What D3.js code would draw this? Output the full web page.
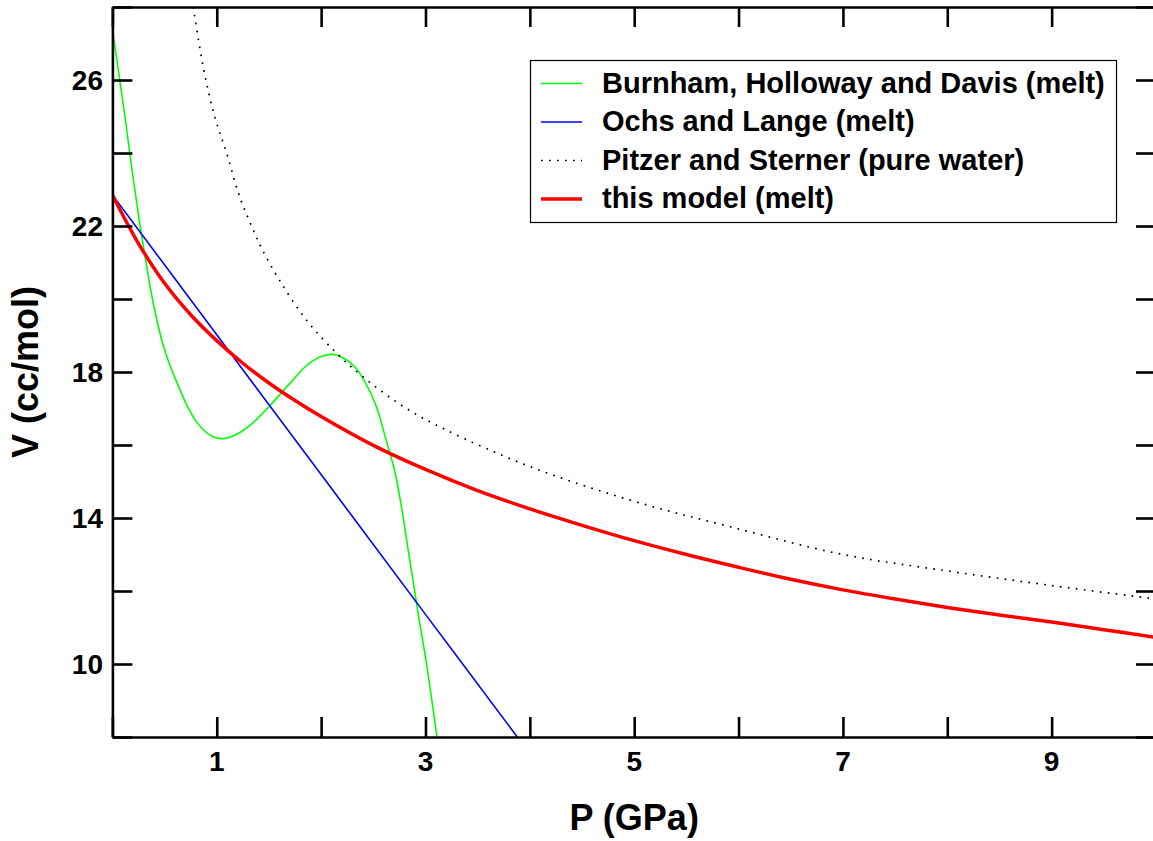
<!DOCTYPE html>
<html lang="en">
<head>
<meta charset="utf-8">
<script src="https://cdn.jsdelivr.net/npm/d3@7/dist/d3.min.js"></script>
<style>
  body { margin: 0; background: #fff; }
  svg text { font-family: "Liberation Sans", Arial, Helvetica, sans-serif; font-weight: bold; fill: #000; }
</style>
</head>
<body>
<script>
  // values: [P (GPa), V (cc/mol)]
  const burnham = [
    [0.00, 27.40], [0.06, 26.20], [0.12, 25.00], [0.19, 23.50], [0.26, 22.10],
    [0.32, 21.05], [0.37, 20.20], [0.42, 19.50], [0.48, 18.80], [0.555, 18.15],
    [0.635, 17.60], [0.715, 17.08], [0.81, 16.62], [0.92, 16.30], [1.02, 16.18],
    [1.11, 16.20], [1.21, 16.32], [1.34, 16.59], [1.50, 17.05], [1.61, 17.40],
    [1.72, 17.75], [1.85, 18.15], [1.95, 18.36], [2.04, 18.46], [2.12, 18.48],
    [2.21, 18.39], [2.32, 18.15], [2.42, 17.73], [2.53, 17.05], [2.61, 16.27],
    [2.66, 15.77], [2.71, 15.22], [2.77, 14.31], [2.83, 13.20], [2.88, 12.30],
    [2.94, 11.20], [3.01, 10.00], [3.11, 8.00]
  ]
  const ochsLange = [[0.00, 22.85], [1.00, 19.02], [2.00, 15.19], [3.00, 11.36], [3.88, 8.00]]
  const pitzerSterner = [
    [0.775, 28.0], [0.87, 26.36], [0.98, 25.00], [1.10, 23.95], [1.22, 22.80],
    [1.35, 21.89], [1.43, 21.39], [1.60, 20.52], [1.86, 19.42], [2.15, 18.51],
    [2.40, 17.87], [2.79, 17.05], [3.20, 16.41], [4.00, 15.41], [4.96, 14.49],
    [5.92, 13.76], [7.00, 13.00], [8.00, 12.55], [9.00, 12.15], [10.00, 11.78]
  ]
  const thisModel = [
    [0.00, 22.85], [0.25, 21.52], [0.50, 20.43], [0.75, 19.57], [1.00, 18.86],
    [1.25, 18.24], [1.50, 17.70], [1.75, 17.22], [2.00, 16.78], [2.50, 15.99],
    [3.00, 15.33], [3.50, 14.75], [4.00, 14.25], [4.50, 13.80], [5.00, 13.38],
    [5.50, 13.00], [6.00, 12.65], [6.50, 12.32], [7.00, 12.03], [7.50, 11.78],
    [8.00, 11.55], [8.50, 11.34], [9.00, 11.15], [9.50, 10.94], [10.00, 10.73]
  ]

  const xTicks = d3.range(0, 11, 1)
  const xLabels = [1, 3, 5, 7, 9]
  const yTicks = d3.range(8, 29, 2)
  const yLabels = [10, 14, 18, 22, 26]

  const series = [
    {name: 'Burnham, Holloway and Davis (melt)', data: burnham, color: '#00ff00', width: 1.6, dash: null},
    {name: 'Ochs and Lange (melt)', data: ochsLange, color: '#0000ff', width: 1.6, dash: null},
    {name: 'Pitzer and Sterner (pure water)', data: pitzerSterner, color: '#000', width: 1.7, dash: '1.7,6.3'},
    {name: 'this model (melt)', data: thisModel, color: '#ff0000', width: 3.5, dash: null}
  ]

  const w = 1153
  const h = 841
  const pLeft = 112.4, pRight = 1156, pTop = 7, pBottom = 737

  const svg = d3.select('body').append('svg')
    .attr('width', w)
    .attr('height', h)

  const x = d3.scaleLinear().domain([0, 10]).range([pLeft, pRight])
  const y = d3.scaleLinear().domain([8, 28]).range([pBottom, pTop])

  svg.append('clipPath').attr('id', 'plot')
    .append('rect')
    .attr('x', pLeft).attr('y', pTop)
    .attr('width', pRight - pLeft).attr('height', pBottom - pTop)

  const line = d3.line()
    .x(d => x(d[0]))
    .y(d => y(d[1]))
    .curve(d3.curveCatmullRom.alpha(0.5))

  svg.append('g').attr('clip-path', 'url(#plot)')
    .selectAll('path')
    .data(series)
    .enter()
    .append('path')
    .attr('d', d => line(d.data))
    .style('fill', 'none')
    .style('stroke', d => d.color)
    .style('stroke-width', d => d.width)
    .style('stroke-dasharray', d => d.dash)

  // axes: ticks on all four sides, pointing inward
  const tickLen = 20
  const axisStyle = g => g.selectAll('path, line').style('stroke', '#000').style('stroke-width', 2.6)

  svg.append('g')
    .attr('transform', `translate(0,${pBottom})`)
    .call(d3.axisTop(x).tickValues(xTicks).tickSize(tickLen).tickSizeOuter(0).tickFormat(''))
    .call(axisStyle)
  svg.append('g')
    .attr('transform', `translate(0,${pTop})`)
    .call(d3.axisBottom(x).tickValues(xTicks).tickSize(tickLen).tickSizeOuter(0).tickFormat(''))
    .call(axisStyle)
  svg.append('g')
    .attr('transform', `translate(${pLeft},0)`)
    .call(d3.axisRight(y).tickValues(yTicks).tickSize(tickLen).tickSizeOuter(0).tickFormat(''))
    .call(axisStyle)
  svg.append('g')
    .attr('transform', `translate(${pRight},0)`)
    .call(d3.axisLeft(y).tickValues(yTicks).tickSize(tickLen).tickSizeOuter(0).tickFormat(''))
    .call(axisStyle)

  svg.selectAll('.xlab')
    .data(xLabels)
    .enter()
    .append('text')
    .attr('x', d => x(d))
    .attr('y', 771)
    .attr('text-anchor', 'middle')
    .style('font-size', '28px')
    .text(d => d)

  svg.selectAll('.ylab')
    .data(yLabels)
    .enter()
    .append('text')
    .attr('x', 103)
    .attr('y', d => y(d) + 10)
    .attr('text-anchor', 'end')
    .style('font-size', '28px')
    .text(d => d)

  svg.append('text')
    .attr('x', (pLeft + pRight) / 2)
    .attr('y', 830)
    .attr('text-anchor', 'middle')
    .style('font-size', '36px')
    .text('P (GPa)')

  svg.append('text')
    .attr('transform', `translate(38,${(pTop + pBottom) / 2}) rotate(-90)`)
    .attr('text-anchor', 'middle')
    .style('font-size', '36px')
    .text('V (cc/mol)')

  // legend
  const legend = svg.append('g')
  legend.append('rect')
    .attr('x', 530.5).attr('y', 60.5)
    .attr('width', 586).attr('height', 162)
    .style('fill', '#fff')
    .style('stroke', '#000')
    .style('stroke-width', 1.2)

  const rows = legend.selectAll('.row')
    .data(series)
    .enter()
    .append('g')
    .attr('transform', (d, i) => `translate(0,${83.5 + 38.5 * i})`)
  rows.append('line')
    .attr('x1', 541).attr('x2', 582)
    .style('stroke', d => d.color)
    .style('stroke-width', d => d.width)
    .style('stroke-dasharray', d => d.dash)
  rows.append('text')
    .attr('x', 602)
    .attr('y', 9)
    .style('font-size', '29px')
    .text(d => d.name)
</script>
</body>
</html>
